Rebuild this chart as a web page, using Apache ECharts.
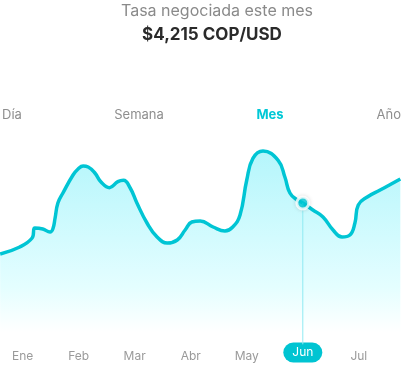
<!DOCTYPE html>
<html>
<head>
<meta charset="utf-8">
<script src="https://cdn.jsdelivr.net/npm/echarts@6/dist/echarts.min.js"></script>
<style>
html,body{margin:0;padding:0;background:#fff;}
#chart{width:402px;height:365px;}
</style>
</head>
<body>
<div id="chart"></div>
<script>
// Month labels (x positions are month indices 0..6)
var months = ['Ene', 'Feb', 'Mar', 'Abr', 'May', 'Jun', 'Jul'];
var tabs = ['Día', 'Semana', 'Mes', 'Año'];
var titleText = 'Tasa negociada este mes';
var rateText = '$4,215 COP/USD';
// Time positions in months (0 = Ene)
var timePos = [-0.40, -0.05, 0.17, 0.22, 0.36, 0.49, 0.54, 0.58, 0.63, 0.72, 0.90, 0.99, 1.08, 1.17, 1.29, 1.40, 1.55, 1.70, 1.80, 1.92, 2.04, 2.22, 2.40, 2.58, 2.76, 2.90, 3.02, 3.17, 3.40, 3.61, 3.75, 3.88, 4.00, 4.11, 4.29, 4.56, 4.68, 4.77, 4.90, 5.00, 5.18, 5.36, 5.54, 5.70, 5.84, 5.93, 5.99, 6.15, 6.38, 6.74];
// COP per USD
var rates = [4138.5, 4149, 4162.5, 4177.5, 4176, 4171.5, 4176, 4192.5, 4215, 4230, 4257, 4266, 4270.5, 4269, 4260, 4246.5, 4238, 4247, 4249, 4237.5, 4215, 4185, 4164, 4155, 4159.5, 4174.5, 4186.5, 4188, 4179, 4173, 4179, 4197, 4249.5, 4282, 4293, 4279, 4254, 4230, 4219.5, 4215, 4204.5, 4194, 4174.5, 4164, 4167, 4185, 4212, 4224, 4234.5, 4251];
var selectedIndex = 5; // Jun
var selectedRate = 4215;
var guideBottom = 4003;

var seriesData = timePos.map(function (t, i) { return [t, rates[i]]; });

var chart = echarts.init(document.getElementById('chart'), null, {renderer: 'canvas'});
var font = 'Inter, "Noto Sans", sans-serif';
var tabX = [2, 139, 270, 401];
var tabAlign = ['left', 'center', 'center', 'right'];

var graphics = [
  {type: 'text', x: 217, y: 3, style: {text: titleText, font: '400 16px ' + font, fill: '#8a8a8a', align: 'center'}},
  {type: 'text', x: 212, y: 26, style: {text: rateText, font: '700 17px ' + font, fill: '#2a2a2a', align: 'center'}}
];
tabs.forEach(function (t, i) {
  graphics.push({type: 'text', x: tabX[i], y: 109, style: {text: t, font: (i === 2 ? '700 ' : '400 ') + '13px ' + font, fill: i === 2 ? '#00c8d6' : '#8e8e8e', align: tabAlign[i]}});
});

chart.setOption({
  animation: false,
  grid: {left: 0, right: 0, top: 133, bottom: 32},
  graphic: graphics,
  xAxis: {
    type: 'value', min: -0.403, max: 6.77,
    axisLine: {show: false}, splitLine: {show: false},
    axisTick: {show: false, customValues: [0, 1, 2, 3, 4, 5, 6]},
    axisLabel: {
      customValues: [0, 1, 2, 3, 4, 5, 6],
      margin: 13,
      formatter: function (v) {
        var i = Math.round(v);
        return i === selectedIndex ? '{pill|' + months[i] + '}' : '{n|' + months[i] + '}';
      },
      rich: {
        n: {color: '#9a9a9a', fontSize: 12, fontFamily: font, padding: [4, 0]},
        pill: {color: '#fff', fontSize: 12, fontFamily: font, backgroundColor: '#00c4d2', borderRadius: 11, padding: [4, 9], lineHeight: 13}
      }
    }
  },
  yAxis: {type: 'value', min: 4020, max: 4320, show: false, splitLine: {show: false}},
  series: [
    {
      type: 'line', data: seriesData, smooth: 0.45, showSymbol: false, symbol: 'none',
      lineStyle: {color: '#00c5d4', width: 3.5},
      areaStyle: {color: new echarts.graphic.LinearGradient(0, 0, 0, 1, [
        {offset: 0, color: '#94f1f9'},
        {offset: 0.75, color: '#d8fdff'},
        {offset: 1, color: '#ffffff'}
      ])},
      z: 2
    },
    {
      type: 'line', data: [[selectedIndex, selectedRate], [selectedIndex, guideBottom]], clip: false,
      symbol: 'none', lineStyle: {color: '#8feaf2', width: 1}, z: 3
    },
    {
      type: 'scatter', data: [[selectedIndex, selectedRate]], symbolSize: 12,
      itemStyle: {color: '#00d2e0', borderColor: '#fff', borderWidth: 3, shadowColor: 'rgba(0,0,0,0.15)', shadowBlur: 4},
      z: 4
    }
  ]
});
</script>
</body>
</html>
